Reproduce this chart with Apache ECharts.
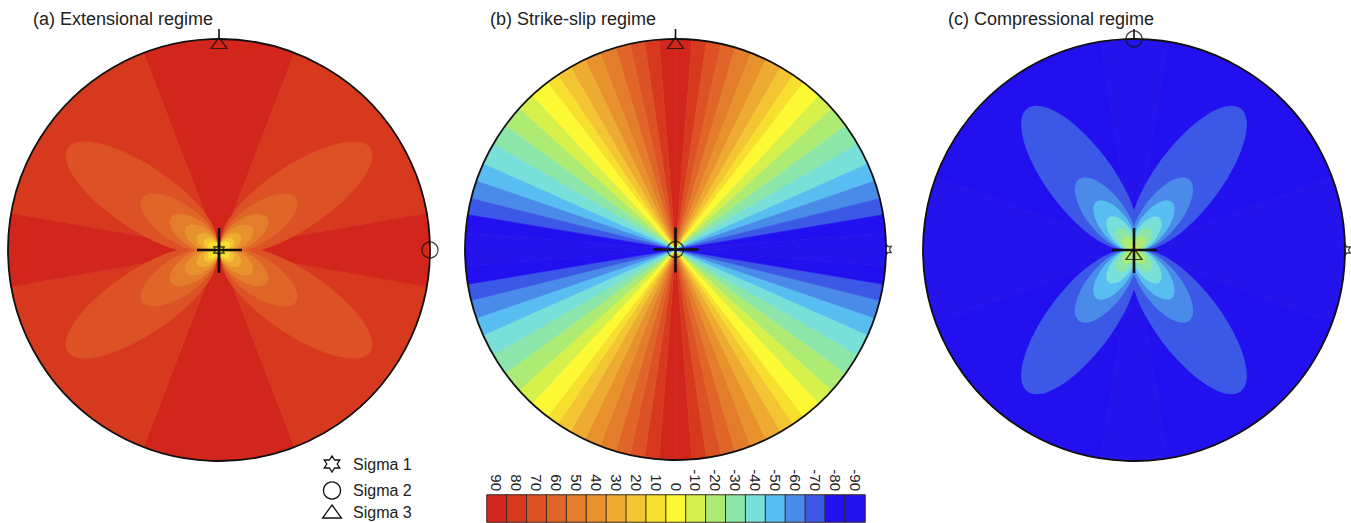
<!DOCTYPE html>
<html>
<head>
<meta charset="utf-8">
<script src="https://cdn.jsdelivr.net/npm/echarts@6/dist/echarts.min.js"></script>
<style>
html,body{margin:0;padding:0;background:#ffffff;}
#chart{width:1351px;height:523px;}
</style>
</head>
<body>
<div id="chart"></div>
<script>
// ================= DATA =================
const levels = [90, 80, 70, 60, 50, 40, 30, 20, 10, 0, -10, -20, -30, -40, -50, -60, -70, -80, -90];
const levelLabels = ['90','80','70','60','50','40','30','20','10','0','-10','-20','-30','-40','-50','-60','-70','-80','-90'];
const panelTitles = ['(a) Extensional regime', '(b) Strike-slip regime', '(c) Compressional regime'];
const legendLabels = ['Sigma 1', 'Sigma 2', 'Sigma 3'];

// angular bands of one quadrant: [from azimuth, to azimuth (deg clockwise from N), value]
const bandsA = [[0, 21, 90], [21, 80, 80], [80, 90, 90]];
const bandsB = [[0, 4.5, 90], [4.5, 8.5, 80], [8.5, 12.5, 70], [12.5, 16.5, 60], [16.5, 21, 50],
                [21, 25.5, 40], [25.5, 30, 30], [30, 34, 20], [34, 37.5, 10], [37.5, 43, 0],
                [43, 48, -10], [48, 54, -20], [54, 60, -30], [60, 66, -40], [66, 71, -50],
                [71, 76, -60], [76, 80.5, -70], [80.5, 85.5, -80], [85.5, 90, -90]];
const bandsC = [[0, 9, -90], [9, 70, -80], [70, 90, -90]];

// lobes of one quadrant: [value, axis angle above E-W (deg), centre distance, semi-major, semi-minor] (net radius = 1)
const lobesA = [[70, 34, 0.445, 0.42, 0.15], [60, 34, 0.23, 0.21, 0.09], [50, 34, 0.145, 0.13, 0.065],
                [40, 34, 0.10, 0.09, 0.048], [30, 34, 0.065, 0.058, 0.035], [20, 34, 0.045, 0.038, 0.026],
                [10, 34, 0.03, 0.03, 0.02], [0, 0, 0, 0.018, 0.018]];
const lobesB = [];
const lobesC = [[-70, 53, 0.43, 0.41, 0.155], [-60, 52, 0.22, 0.205, 0.09], [-50, 52, 0.15, 0.14, 0.065],
                [-40, 52, 0.10, 0.095, 0.048], [-30, 52, 0.065, 0.06, 0.035], [-20, 52, 0.04, 0.038, 0.025],
                [-10, 0, 0, 0.022, 0.022]];

// principal stress positions on each net: [x, y, sigma number]
const sigmaA = [[0, 0, 1], [1, 0, 2], [0, 1, 3]];
const sigmaB = [[1, 0, 1], [0, 0, 2], [0, 1, 3]];
const sigmaC = [[1, 0, 1], [0, 1, 2], [0, 0, 3]];

// ================= STYLE =================
const palette = {
  '90': '#d2261d', '80': '#d7391f', '70': '#dc5224', '60': '#df6628', '50': '#e37c2b',
  '40': '#e8922e', '30': '#eeab31', '20': '#f3c533', '10': '#f7df2f', '0': '#fdfa35',
  '-10': '#d6f04c', '-20': '#aeeb74', '-30': '#8ce6aa', '-40': '#78dfd9', '-50': '#58bdf0',
  '-60': '#4a8ae8', '-70': '#3c58e6', '-80': '#2211ee', '-90': '#2413ea'
};
const FONT = '"Liberation Sans", Arial, Helvetica, sans-serif';
const INK = '#111111';
const starPath = 'path://M0,-100L28.9,-50L86.6,-50L57.7,0L86.6,50L28.9,50L0,100L-28.9,50L-86.6,50L-57.7,0L-86.6,-50L-28.9,-50Z';
const sigmaStyle = {
  1: { symbol: starPath, symbolSize: [12, 12], symbolOffset: [0, 0] },
  2: { symbol: 'circle', symbolSize: 16, symbolOffset: [0, 0] },
  3: { symbol: 'triangle', symbolSize: [16, 11], symbolOffset: [0, 4] }
};
const boxes = [{ left: 8, top: 39, size: 422 }, { left: 465, top: 39, size: 421 }, { left: 923, top: 39, size: 422 }];

// ================= BUILD =================
const quadrants = [[1, 1], [-1, 1], [-1, -1], [1, -1]];
function expandBands(b) {
  const out = [];
  b.forEach(([f, t, v]) => {
    out.push([f, t, v], [180 - t, 180 - f, v], [180 + f, 180 + t, v], [360 - t, 360 - f, v]);
  });
  return out;
}
function expandLobes(l) {
  const out = [];
  l.forEach(([v, ang, d, a, b]) => {
    const r = ang * Math.PI / 180;
    quadrants.forEach(([sx, sy]) => {
      out.push([sx * d * Math.cos(r), sy * d * Math.sin(r), a, b, sx * sy * ang, v]);
    });
  });
  return out;
}
function renderBand(params, api) {
  const c = api.coord([0, 0]);
  const r = api.size([1, 1])[0];
  const v = api.value(2);
  const col = palette[String(v)];
  return {
    type: 'sector',
    shape: { cx: c[0], cy: c[1], r0: 0, r: r, startAngle: (api.value(0) - 90) * Math.PI / 180,
             endAngle: (api.value(1) - 90) * Math.PI / 180, clockwise: true },
    style: { fill: col, stroke: col, lineWidth: 0.7 }
  };
}
function renderLobe(params, api) {
  const p = api.coord([api.value(0), api.value(1)]);
  const s = api.size([1, 1]);
  const col = palette[String(api.value(5))];
  return {
    type: 'circle', x: p[0], y: p[1], rotation: api.value(4) * Math.PI / 180,
    scaleX: api.value(2) * s[0], scaleY: api.value(3) * s[1],
    shape: { cx: 0, cy: 0, r: 1 }, style: { fill: col }
  };
}
function renderFrame(params, api) {
  const c = api.coord([0, 0]);
  const r = api.size([1, 1])[0];
  return {
    type: 'group', children: [
      { type: 'circle', shape: { cx: c[0], cy: c[1], r: r }, style: { fill: 'none', stroke: INK, lineWidth: 1.8 } },
      { type: 'line', shape: { x1: c[0] - 22, y1: c[1], x2: c[0] + 23, y2: c[1] }, style: { stroke: INK, lineWidth: 2.6 } },
      { type: 'line', shape: { x1: c[0], y1: c[1] - 22, x2: c[0], y2: c[1] + 23 }, style: { stroke: INK, lineWidth: 2.6 } },
      { type: 'line', shape: { x1: c[0], y1: c[1] - r - 10, x2: c[0], y2: c[1] - r }, style: { stroke: INK, lineWidth: 1.6 } }
    ]
  };
}
function markerItem(p) {
  const st = sigmaStyle[p[2]];
  return { value: p, symbol: st.symbol, symbolSize: st.symbolSize, symbolOffset: st.symbolOffset, symbolKeepAspect: true };
}
const markerStyle = { color: 'rgba(0,0,0,0)', borderColor: INK, borderWidth: 1.3 };

const grids = [], xAxes = [], yAxes = [], series = [];
const panels = [[bandsA, lobesA, sigmaA], [bandsB, lobesB, sigmaB], [bandsC, lobesC, sigmaC]];
panels.forEach(([bands, lobes, sig], i) => {
  const b = boxes[i];
  grids.push({ left: b.left, top: b.top, width: b.size, height: b.size });
  xAxes.push({ gridIndex: i, type: 'value', min: -1, max: 1, show: false });
  yAxes.push({ gridIndex: i, type: 'value', min: -1, max: 1, show: false });
  const under = sig.filter(p => p[2] === 1 && (p[0] !== 0 || p[1] !== 0));
  const over = sig.filter(p => !(p[2] === 1 && (p[0] !== 0 || p[1] !== 0)));
  series.push({ type: 'scatter', xAxisIndex: i, yAxisIndex: i, z: 1, silent: true,
    data: under.map(markerItem), itemStyle: markerStyle });
  series.push({ type: 'custom', xAxisIndex: i, yAxisIndex: i, z: 2, silent: true,
    renderItem: renderBand, data: expandBands(bands) });
  if (lobes.length) series.push({ type: 'custom', xAxisIndex: i, yAxisIndex: i, z: 3, silent: true,
    renderItem: renderLobe, data: expandLobes(lobes) });
  series.push({ type: 'custom', xAxisIndex: i, yAxisIndex: i, z: 4, silent: true,
    renderItem: renderFrame, data: [[0, 0]] });
  series.push({ type: 'scatter', xAxisIndex: i, yAxisIndex: i, z: 5, silent: true,
    data: over.map(markerItem), itemStyle: markerStyle });
});

// colour bar
grids.push({ left: 487, top: 495, width: 378, height: 27 });
xAxes.push({ gridIndex: 3, type: 'category', data: levelLabels, position: 'top',
  axisLine: { show: false }, axisTick: { show: false }, splitLine: { show: false },
  axisLabel: { rotate: 90, fontSize: 15, fontFamily: FONT, color: '#222', margin: 4, interval: 0 } });
yAxes.push({ gridIndex: 3, type: 'category', data: ['bar'], show: false });
const barIndex = series.length;
series.push({ type: 'heatmap', xAxisIndex: 3, yAxisIndex: 3, silent: true,
  data: levels.map((v, k) => [k, 0, v]),
  itemStyle: { borderColor: '#3a2a22', borderWidth: 1 } });

// titles & legend (graphic)
const titleX = [33, 490, 948];
const graphics = panelTitles.map((t, i) => ({
  type: 'text', x: titleX[i], y: 19,
  style: { text: t, fontSize: 18, fontFamily: FONT, fill: '#222', verticalAlign: 'middle', align: 'left' }
}));
const legendY = [464, 490.5, 512];
const starUnit = [[0,-1],[0.289,-0.5],[0.866,-0.5],[0.577,0],[0.866,0.5],[0.289,0.5],[0,1],[-0.289,0.5],[-0.866,0.5],[-0.577,0],[-0.866,-0.5],[-0.289,-0.5]];
legendLabels.forEach((t, k) => {
  const cx = 332, cy = legendY[k];
  let shape;
  if (k === 0) shape = { type: 'polygon', shape: { points: starUnit.map(p => [cx + p[0] * 9, cy + p[1] * 8]) } };
  else if (k === 1) shape = { type: 'circle', shape: { cx: cx, cy: cy, r: 8.5 } };
  else shape = { type: 'polygon', shape: { points: [[cx, cy - 7], [cx + 9.5, cy + 6], [cx - 9.5, cy + 6]] } };
  shape.style = { fill: 'none', stroke: INK, lineWidth: 1.3 };
  graphics.push(shape);
  graphics.push({ type: 'text', x: 353, y: cy, style: { text: t, fontSize: 16, fontFamily: FONT, fill: '#222', verticalAlign: 'middle' } });
});

const chart = echarts.init(document.getElementById('chart'), null, { renderer: 'svg', width: 1351, height: 523 });
chart.setOption({
  animation: false,
  backgroundColor: '#ffffff',
  grid: grids, xAxis: xAxes, yAxis: yAxes,
  visualMap: [{ type: 'piecewise', show: false, seriesIndex: barIndex, dimension: 2,
    pieces: levels.map(v => ({ value: v, color: palette[String(v)] })) }],
  series: series,
  graphic: graphics
});
</script>
</body>
</html>
